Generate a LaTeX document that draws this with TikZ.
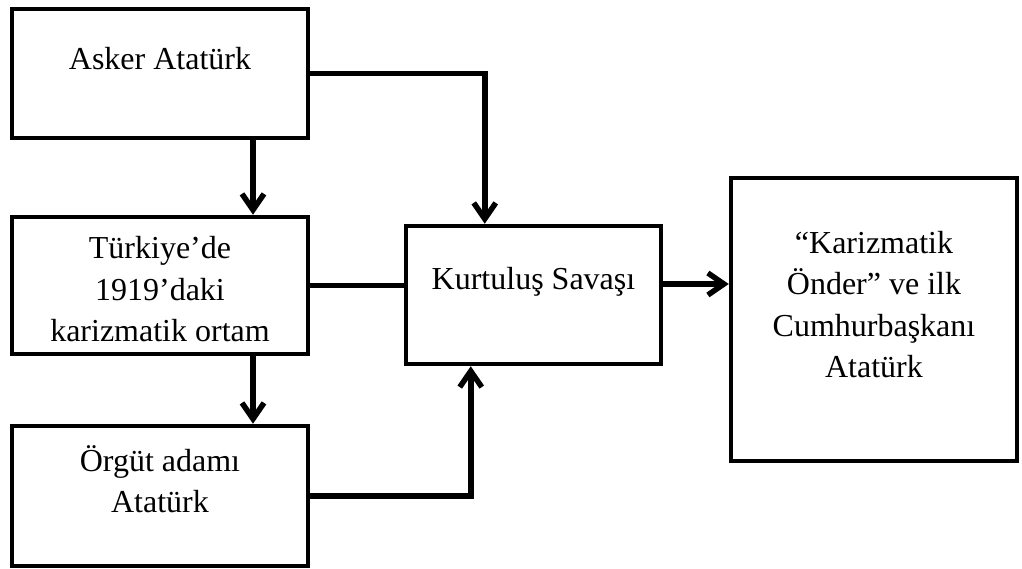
\documentclass[tikz,border=0pt]{standalone}
\usepackage{fontspec}
\setmainfont{Liberation Serif}
\usetikzlibrary{arrows.meta}
\begin{document}
\begin{tikzpicture}[x=1pt,y=1pt,
    box/.style={draw,line width=4.5pt,align=center,inner sep=0pt,
      font=\fontsize{32}{41.5}\selectfont},
    arr/.style={line width=5.5pt,-{Straight Barb[length=16pt,width=22pt]}}]
  \useasboundingbox (0,0) rectangle (1022,569);
  % boxes
  \node[box,minimum width=296,minimum height=129,text height=22pt,text depth=29pt] (asker) at (160,495.5) {Asker Atatürk};
  \node[box,minimum width=296,minimum height=137,text height=120pt,text depth=7pt] (turkiye) at (160,283.5) {Türkiye’de\\1919’daki\\karizmatik ortam};
  \node[box,minimum width=296,minimum height=140,text height=50pt,text depth=16pt] (orgut) at (160,73) {Örgüt adamı\\Atatürk};
  \node[box,minimum width=255,minimum height=138,text height=22pt,text depth=32pt] (kurtulus) at (533.5,274) {Kurtuluş Savaşı};
  \node[box,minimum width=286,minimum height=283,text height=130pt,text depth=13pt] (onder) at (874,249.5) {“Karizmatik\\Önder” ve ilk\\Cumhurbaşkanı\\Atatürk};
  % connectors
  \draw[arr] ([xshift=93pt]asker.south) -- ([xshift=93pt]turkiye.north);
  \draw[arr] ([xshift=93pt]turkiye.south) -- ([xshift=93pt]orgut.north);
  \draw[arr] (asker.east) -| ([xshift=81pt]kurtulus.north west);
  \draw[line width=5.5pt] (turkiye.east) -- (turkiye.east -| kurtulus.west);
  \draw[arr] (orgut.east) -| ([xshift=67pt]kurtulus.south west);
  \draw[arr] ([yshift=11pt]kurtulus.east) -- ([yshift=11pt]kurtulus.east -| onder.west);
\end{tikzpicture}
\end{document}
